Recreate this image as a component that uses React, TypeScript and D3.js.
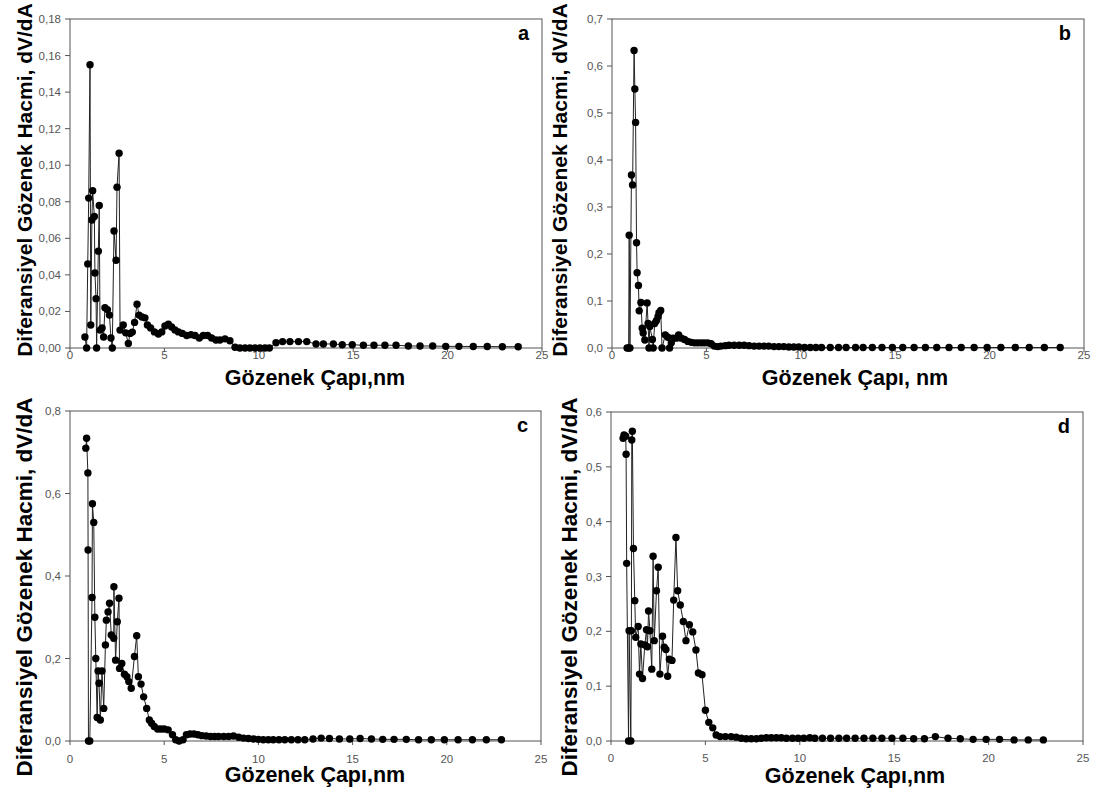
import React from "react";
import * as d3 from "d3";

// ---- data: [pore diameter (nm), dV/dA] ----
const seriesA: [number, number][] = [
  [0.79,0.006],[0.88,0],[0.94,0.046],[0.99,0.082],[1.06,0.155],[1.1,0.0126],[1.16,0.070],[1.2,0.086],[1.29,0.072],[1.32,0.041],[1.38,0.027],[1.41,0],[1.5,0.053],[1.55,0.078],[1.59,0.0098],[1.7,0.011],[1.78,0.006],[1.85,0.022],[1.98,0.021],[2.09,0.018],[2.17,0.0055],[2.24,0],[2.33,0.064],[2.44,0.048],[2.49,0.088],[2.6,0.1066],[2.65,0.0098],[2.82,0.0126],[2.95,0.0083],[3.09,0.0025],[3.18,0.008],[3.3,0.0087],[3.42,0.014],[3.55,0.024],[3.66,0.018],[3.81,0.017],[3.97,0.0165],[4.1,0.0126],[4.27,0.011],[4.47,0.0088],[4.68,0.0077],[4.86,0.0088],[5.03,0.012],[5.21,0.013],[5.38,0.0115],[5.56,0.0099],[5.74,0.0088],[5.95,0.008],[6.18,0.0068],[6.41,0.0073],[6.62,0.0068],[6.85,0.0055],[7.06,0.0068],[7.29,0.0068],[7.5,0.0055],[7.73,0.0044],[7.94,0.0044],[8.21,0.005],[8.47,0.004],[8.74,0.0004],[9.0,0],[9.27,0],[9.53,0],[9.8,0],[10.06,0],[10.33,0],[10.56,0],[10.91,0.0029],[11.26,0.0035],[11.65,0.0035],[12.1,0.0035],[12.54,0.0035],[13.03,0.0022],[13.42,0.0022],[13.95,0.0022],[14.42,0.0018],[14.95,0.0018],[15.54,0.0015],[16.1,0.0015],[16.68,0.0015],[17.27,0.0015],[17.92,0.0011],[18.54,0.0011],[19.21,0.0011],[19.9,0.0009],[20.6,0.0009],[21.36,0.0008],[22.1,0.0008],[22.9,0.0007],[23.74,0.0007]
];

const seriesB: [number, number][] = [
  [0.8,0],[0.88,0],[0.91,0.24],[0.95,0],[1.03,0.368],[1.09,0.347],[1.17,0.633],[1.21,0.551],[1.25,0.48],[1.3,0.224],[1.33,0.16],[1.4,0.133],[1.44,0.079],[1.53,0.097],[1.6,0.042],[1.65,0.032],[1.74,0.017],[1.86,0.096],[1.91,0.052],[1.96,0],[2.0,0.046],[2.14,0.018],[2.18,0],[2.26,0.052],[2.35,0.058],[2.44,0.067],[2.49,0.075],[2.58,0.08],[2.65,0],[2.82,0.028],[2.96,0.023],[3.05,0],[3.14,0.011],[3.23,0.021],[3.4,0.021],[3.53,0.028],[3.67,0.021],[3.84,0.018],[4.02,0.014],[4.2,0.012],[4.37,0.011],[4.54,0.011],[4.72,0.011],[4.89,0.011],[5.07,0.011],[5.25,0.009],[5.42,0.004],[5.6,0.003],[5.77,0.004],[6.0,0.005],[6.2,0.006],[6.47,0.006],[6.74,0.006],[7.0,0.006],[7.26,0.005],[7.53,0.004],[7.79,0.004],[8.05,0.004],[8.3,0.004],[8.58,0.003],[8.84,0.003],[9.1,0.003],[9.37,0.002],[9.63,0.002],[9.89,0.002],[10.2,0.001],[10.5,0.001],[10.8,0.001],[11.1,0.001],[11.56,0.001],[12.0,0.001],[12.4,0.001],[12.9,0.001],[13.3,0.001],[13.79,0.001],[14.3,0.001],[14.85,0.001],[15.4,0.001],[16.0,0.001],[16.6,0.001],[17.2,0.001],[17.85,0.001],[18.5,0.001],[19.18,0.001],[19.87,0.001],[20.6,0.001],[21.36,0.001],[22.1,0.001],[22.9,0.001],[23.74,0.001]
];

const seriesC: [number, number][] = [
  [0.84,0.71],[0.88,0.734],[0.95,0.65],[0.96,0.463],[0.98,0],[1.05,0],[1.17,0.348],[1.19,0.575],[1.26,0.53],[1.32,0.30],[1.37,0.2],[1.44,0.057],[1.49,0.17],[1.54,0.14],[1.61,0.051],[1.7,0.17],[1.79,0.079],[1.88,0.233],[1.93,0.293],[2.02,0.313],[2.1,0.334],[2.19,0.257],[2.32,0.249],[2.33,0.374],[2.42,0.196],[2.51,0.289],[2.6,0.346],[2.63,0.176],[2.75,0.188],[2.89,0.162],[3.02,0.156],[3.12,0.144],[3.25,0.128],[3.42,0.205],[3.54,0.255],[3.63,0.156],[3.77,0.138],[3.91,0.107],[4.07,0.079],[4.21,0.051],[4.33,0.043],[4.47,0.035],[4.65,0.029],[4.82,0.029],[5.0,0.029],[5.21,0.027],[5.44,0.015],[5.61,0.003],[5.79,0],[6.0,0.003],[6.18,0.015],[6.37,0.017],[6.58,0.017],[6.79,0.015],[7.0,0.013],[7.23,0.012],[7.46,0.011],[7.68,0.011],[7.89,0.011],[8.16,0.011],[8.42,0.011],[8.68,0.012],[8.95,0.009],[9.21,0.007],[9.47,0.006],[9.74,0.005],[10.0,0.004],[10.26,0.003],[10.53,0.003],[10.79,0.003],[11.09,0.003],[11.4,0.003],[11.75,0.003],[12.1,0.003],[12.46,0.003],[12.9,0.005],[13.33,0.007],[13.77,0.006],[14.3,0.005],[14.85,0.005],[15.4,0.006],[16.0,0.005],[16.6,0.004],[17.2,0.004],[17.85,0.004],[18.5,0.003],[19.18,0.003],[19.87,0.003],[20.6,0.003],[21.36,0.003],[22.1,0.003],[22.9,0.003]
];

const seriesD: [number, number][] = [
  [0.64,0.552],[0.69,0.558],[0.78,0.556],[0.8,0.523],[0.83,0.324],[0.93,0],[0.96,0.201],[1.05,0],[1.08,0.201],[1.1,0.549],[1.13,0.565],[1.19,0.351],[1.26,0.256],[1.31,0.189],[1.44,0.209],[1.51,0.122],[1.58,0.177],[1.67,0.114],[1.79,0.175],[1.88,0.203],[1.93,0.172],[1.99,0.237],[2.06,0.201],[2.16,0.131],[2.23,0.337],[2.29,0.183],[2.41,0.274],[2.5,0.317],[2.59,0.122],[2.73,0.191],[2.82,0.171],[2.91,0.167],[3.0,0.118],[3.09,0.149],[3.23,0.147],[3.32,0.257],[3.44,0.371],[3.53,0.274],[3.67,0.248],[3.83,0.218],[3.97,0.183],[4.15,0.212],[4.33,0.199],[4.5,0.166],[4.63,0.124],[4.82,0.121],[5.0,0.056],[5.18,0.034],[5.39,0.024],[5.57,0.011],[5.78,0.008],[6.06,0.008],[6.36,0.008],[6.63,0.007],[6.9,0.005],[7.16,0.004],[7.43,0.004],[7.7,0.004],[7.96,0.005],[8.23,0.006],[8.49,0.006],[8.76,0.006],[9.02,0.006],[9.29,0.005],[9.61,0.005],[9.91,0.005],[10.21,0.005],[10.53,0.006],[10.8,0.005],[11.2,0.005],[11.63,0.005],[12.07,0.005],[12.48,0.005],[12.93,0.005],[13.4,0.005],[13.87,0.005],[14.35,0.005],[14.88,0.005],[15.46,0.005],[16.03,0.004],[16.6,0.004],[17.18,0.008],[17.85,0.005],[18.5,0.004],[19.18,0.003],[19.87,0.003],[20.58,0.003],[21.35,0.002],[22.1,0.002],[22.9,0.002]
];

const xTicks = [0, 5, 10, 15, 20, 25];
const yTicksA = [0, 0.02, 0.04, 0.06, 0.08, 0.1, 0.12, 0.14, 0.16, 0.18];
const yTicksB = [0, 0.1, 0.2, 0.3, 0.4, 0.5, 0.6, 0.7];
const yTicksC = [0, 0.2, 0.4, 0.6, 0.8];
const yTicksD = [0, 0.1, 0.2, 0.3, 0.4, 0.5, 0.6];
const yTitle = "Diferansiyel Gözenek Hacmi, dV/dA";
const xTitles = ["Gözenek Çapı,nm", "Gözenek Çapı, nm", "Gözenek Çapı,nm", "Gözenek Çapı,nm"];
const letters = ["a", "b", "c", "d"];

const FONT = "Arial, 'Liberation Sans', sans-serif";

type PanelSpec = {
  data: [number, number][];
  yTicks: number[];
  decimals: number;
  left: number; right: number; top: number; bottom: number;
  xTitle: string; letter: string;
  yTitleX: number; yTitleCY: number; yTitleSize: number;
  xTitleCX: number; xTitleY: number; xTickY: number;
};

const panels: PanelSpec[] = [
  { data: seriesA, yTicks: yTicksA, decimals: 2, left: 70, right: 542, top: 19, bottom: 348, xTitle: xTitles[0], letter: letters[0], yTitleX: 32, yTitleCY: 180, yTitleSize: 21, xTitleCX: 315, xTitleY: 385, xTickY: 359 },
  { data: seriesB, yTicks: yTicksB, decimals: 1, left: 612, right: 1084, top: 19, bottom: 348, xTitle: xTitles[1], letter: letters[1], yTitleX: 567, yTitleCY: 180, yTitleSize: 21, xTitleCX: 855, xTitleY: 385, xTickY: 359 },
  { data: seriesC, yTicks: yTicksC, decimals: 1, left: 70, right: 541, top: 411, bottom: 741, xTitle: xTitles[2], letter: letters[2], yTitleX: 32, yTitleCY: 587, yTitleSize: 22.5, xTitleCX: 315, xTitleY: 782, xTickY: 763 },
  { data: seriesD, yTicks: yTicksD, decimals: 1, left: 611, right: 1083, top: 412, bottom: 741, xTitle: xTitles[3], letter: letters[3], yTitleX: 577, yTitleCY: 587, yTitleSize: 22.5, xTitleCX: 855, xTitleY: 783, xTickY: 762 },
];

function Panel({ p }: { p: PanelSpec }) {
  const x = d3.scaleLinear().domain([0, 25]).range([p.left, p.right]);
  const ymax = p.yTicks[p.yTicks.length - 1];
  const y = d3.scaleLinear().domain([0, ymax]).range([p.bottom, p.top]);
  const line = d3.line<[number, number]>().x(d => x(d[0])).y(d => y(d[1]));
  const fmt = (v: number) => v.toFixed(p.decimals).replace(".", ",");
  return (
    <g>
      <rect x={p.left} y={p.top} width={p.right - p.left} height={p.bottom - p.top} fill="white" stroke="#555" strokeWidth={1} />
      {p.yTicks.map(t => (
        <g key={"y" + t}>
          <line x1={p.left - 5} x2={p.left} y1={y(t)} y2={y(t)} stroke="#555" />
          <text x={p.left - 9} y={y(t) + 4} textAnchor="end" fontSize={11.5} fill="#555" fontFamily={FONT}>{fmt(t)}</text>
        </g>
      ))}
      {xTicks.map(t => (
        <g key={"x" + t}>
          <line x1={x(t)} x2={x(t)} y1={p.bottom} y2={p.bottom + 4} stroke="#555" />
          <text x={x(t)} y={p.xTickY} textAnchor="middle" fontSize={11.5} fill="#555" fontFamily={FONT}>{t}</text>
        </g>
      ))}
      <path d={line(p.data) || ""} fill="none" stroke="#222" strokeWidth={1} />
      {p.data.map((d, i) => (
        <circle key={i} cx={x(d[0])} cy={y(d[1])} r={3.7} fill="#000" />
      ))}
      <text x={p.right - 13} y={p.top + 21} textAnchor="end" fontSize={20} fontWeight="bold" fontFamily={FONT}>{p.letter}</text>
      <text x={p.xTitleCX} y={p.xTitleY} textAnchor="middle" fontSize={21.5} fontWeight="bold" fontFamily={FONT}>{p.xTitle}</text>
      <text transform={`translate(${p.yTitleX},${p.yTitleCY}) rotate(-90)`} textAnchor="middle" fontSize={p.yTitleSize} fontWeight="bold" fontFamily={FONT}>{yTitle}</text>
    </g>
  );
}

export default function App() {
  return (
    <svg width={1096} height={796} style={{ position: "absolute", left: 0, top: 0, background: "white" }}>
      <rect width={1096} height={796} fill="white" />
      {panels.map((p, i) => <Panel key={i} p={p} />)}
    </svg>
  );
}
